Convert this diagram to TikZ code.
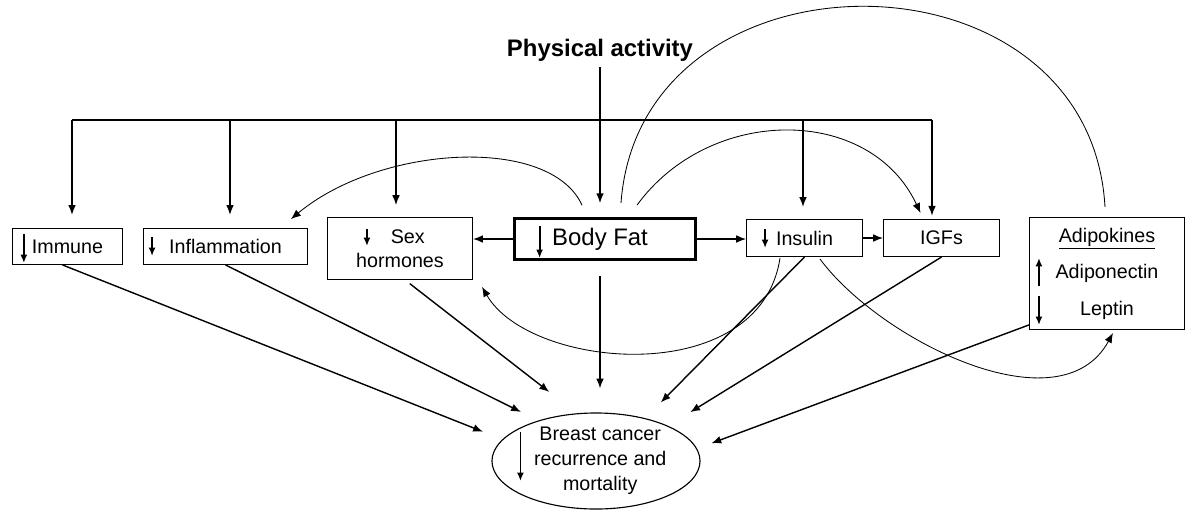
\documentclass[tikz,border=0pt]{standalone}
\usepackage{fontspec}
\setmainfont{Liberation Sans}
\usetikzlibrary{arrows.meta,shapes.geometric,calc,positioning}

\begin{document}
\begin{tikzpicture}[x=0.025cm, y=-0.025cm,
  every node/.style={font=\fontsize{14}{17}\selectfont, align=center, inner sep=0pt},
  factor/.style={draw, line width=0.6pt},
  link/.style={-{Latex[length=7pt,width=5.5pt]}, line width=1pt},
  curved/.style={-{Latex[length=7pt,width=5.5pt]}, line width=0.6pt},
  tick/.style={-{Latex[length=6pt,width=5pt]}, line width=1.3pt}]
\useasboundingbox (0,0) rectangle (1192,509);

% exposure and mediators
\node[font=\fontsize{17}{20}\selectfont\bfseries] (pa) at (600,50) {Physical activity};
\node[factor, minimum width=2.76cm, minimum height=0.9cm] (immune) at (67.5,246.5) {Immune};
\node[factor, minimum width=4.1cm, minimum height=0.9cm] (inflam) at (225.5,246.5) {Inflammation};
\node[factor, minimum width=3.63cm, minimum height=1.55cm] (sex) at (400,248.5) {\hspace*{11pt}Sex\\hormones};
\node[draw, line width=1.8pt, minimum width=4.53cm, minimum height=1.03cm, font=\fontsize{17}{20}\selectfont] (fat) at (605,239) {Body Fat\hspace*{7pt}};
\node[factor, minimum width=2.9cm, minimum height=0.93cm] (insulin) at (804.5,238) {Insulin};
\node[factor, minimum width=2.9cm, minimum height=0.93cm] (igfs) at (941.5,238) {IGFs};
\node[factor, minimum width=3.88cm, minimum height=2.8cm, font=\fontsize{14}{26}\selectfont] (adipo) at (1107,273.5) {\underline{Adipokines}\\Adiponectin\\Leptin};
% outcome
\node[draw, ellipse, line width=0.8pt, minimum width=5.2cm, minimum height=2.4cm, font=\fontsize{14}{17.8}\selectfont] (cancer) at (596,461) {\hspace*{6pt}Breast cancer\\\hspace*{6pt}recurrence and\\\hspace*{6pt}mortality};

% direction marks inside the boxes
\draw[tick] ($(immune.west)+(12,-12.5)$) -- ($(immune.west)+(12,16.5)$);
\draw[tick] ($(inflam.west)+(9,-9.5)$) -- ($(inflam.west)+(9,9.5)$);
\draw[tick] ($(sex.west)+(40,-19.5)$) -- ($(sex.west)+(40,-2.5)$);
\draw[tick] ($(fat.west)+(26.5,-13)$) -- ($(fat.west)+(26.5,19)$);
\draw[tick] ($(insulin.west)+(19,-9)$) -- ($(insulin.west)+(19,10)$);
\draw[tick] ($(adipo.west)+(10,12.5)$) -- ($(adipo.west)+(10,-15.5)$);
\draw[tick] ($(adipo.west)+(10,22.5)$) -- ($(adipo.west)+(10,51.5)$);
\draw[tick] ($(cancer.west)+(29,-29)$) -- ($(cancer.west)+(29,20)$);

% physical activity bus
\coordinate (busA) at (72,120);
\coordinate (busB) at (230,120);
\coordinate (busC) at (396,120);
\coordinate (busD) at (803,120);
\coordinate (busE) at (932,120);
\draw[line width=1pt] (busA) -- (busE);
\draw[link, shorten >=0.33cm] (busA) -- (busA |- immune.north);
\draw[link, shorten >=0.33cm] (busB) -- (busB |- inflam.north);
\draw[link, shorten >=0.3cm] (busC) -- (busC |- sex.north);
\draw[link, shorten >=0.3cm] (busD) -- (busD |- insulin.north);
\draw[link, shorten >=0.08cm] (busE) -- (busE |- igfs.north);
\draw[link, shorten <=0.15cm, shorten >=0.35cm] (pa.south) -- (pa.south |- fat.north);

% body fat to hormones
\draw[link] (fat.west) -- (fat.west -| sex.east);
\draw[link] (fat.east) -- (fat.east -| insulin.west);
\draw[link] (insulin.east) -- (igfs.west);
\draw[curved] ($(fat.north)+(-23,-12)$) .. controls (550,135) and (380,145) .. ($(inflam.north east)+(-17,-9)$);
\draw[line width=0.6pt] ($(fat.north)+(16,-14)$) .. controls (640,-60) and (1090,-60) .. ($(adipo.north)+(-2,-10)$);
\draw[curved] ($(fat.north)+(32,-12)$) .. controls (710,105) and (870,105) .. ($(igfs.north)+(-21,-6)$);
\draw[curved] ($(insulin.south)+(-24.5,1)$) .. controls (760,390) and (530,370) .. ($(sex.south east)+(9,7)$);
\draw[curved] ($(insulin.south)+(15.5,2)$) .. controls (880,340) and (1060,430) .. ($(adipo.south)+(6,3)$);

% paths to the outcome
\coordinate (fatout) at ($(fat.south)+(-5,0)$);
\draw[link, shorten >=0.52cm] ($(immune.south)+(-5,0)$) -- (cancer.167.9);
\draw[link, shorten >=0.48cm] (inflam.south) -- (cancer.145.4);
\draw[link, shorten <=0.15cm, shorten >=0.87cm] ($(sex.south)+(5,0)$) -- (cancer.112.5);
\draw[link, shorten <=0.37cm, shorten >=0.6cm] (fatout) -- (fatout |- cancer.north);
\draw[link, shorten >=0.55cm] (insulin.south) -- (cancer.41.8);
\draw[link, shorten >=0.65cm] (igfs.south) -- (cancer.26.2);
\draw[link, shorten >=0.38cm] ($(adipo.south west)+(0,-5)$) -- (cancer.7.9);
\end{tikzpicture}
\end{document}
